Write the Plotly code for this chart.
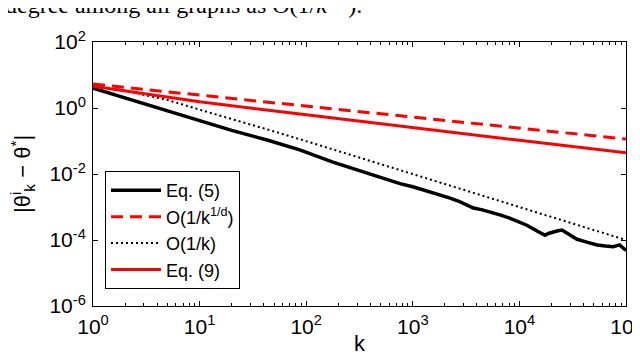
import plotly.graph_objects as go

# values (log-log axes)
k_eq5 = [1, 2, 4, 10, 20, 43, 87, 178, 372, 758, 1000, 1175, 1450, 1800, 2200, 2750,
         3200, 3700, 4500, 5600, 6800, 8100, 9500, 11750, 14500, 17400, 19000, 20900,
         23000, 25100, 29000, 34700, 42000, 53700, 64000, 75900, 87100, 93000, 100000]
v_eq5 = [4.0, 2.0, 1.0, 0.42, 0.21, 0.107, 0.054, 0.023, 0.0105, 0.0051, 0.0041,
         0.0035, 0.0029, 0.0023, 0.0019, 0.00145, 0.00118, 0.00093, 0.00082, 0.00068,
         0.00056, 0.00046, 0.00037, 0.00028, 0.00019, 0.00014, 0.00016, 0.00018,
         0.00019, 0.00020, 0.00015, 0.000105, 0.000088, 0.000071, 0.000066, 0.000063,
         0.000071, 0.000058, 0.000048]

k_ref = [1, 10, 100, 1000, 10000, 100000]
v_kd = [5.3, 2.46, 1.14, 0.53, 0.246, 0.114]          # O(1/k^(1/d))

k_dot = [1, 2, 3, 5, 10, 20, 50, 100, 1000, 10000, 100000]
v_dot = [4.5, 3.4, 2.5, 1.75, 0.89, 0.47, 0.195, 0.099, 0.01, 0.001, 0.0001]  # O(1/k)

k_eq9 = [1, 3, 10, 100, 1000, 10000, 100000]
v_eq9 = [4.6, 2.7, 1.55, 0.62, 0.25, 0.105, 0.044]

xtick_vals = [1, 10, 100, 1000, 10000, 100000]
xtick_text = ["10<sup>0</sup>", "10<sup>1</sup>", "10<sup>2</sup>", "10<sup>3</sup>",
              "10<sup>4</sup>", "10<sup>5</sup>"]
ytick_vals = [1e-6, 1e-4, 1e-2, 1, 1e2]
ytick_text = ["10<sup>-6</sup>", "10<sup>-4</sup>", "10<sup>-2</sup>", "10<sup>0</sup>",
              "10<sup>2</sup>"]
x_minor = [m * 10 ** e for e in range(5) for m in range(2, 10)]

font = "Liberation Sans, Arial, sans-serif"

fig = go.Figure()
fig.add_trace(go.Scatter(x=k_eq5, y=v_eq5, mode="lines", name="Eq. (5)",
                         line=dict(color="black", width=3.5)))
fig.add_trace(go.Scatter(x=k_ref, y=v_kd, mode="lines", name="O(1/k<sup>1/d</sup>)",
                         line=dict(color="#ff0000", width=3, dash="12px,7px")))
fig.add_trace(go.Scatter(x=k_dot, y=v_dot, mode="lines", name="O(1/k)",
                         line=dict(color="black", width=2, dash="2px,3px")))
fig.add_trace(go.Scatter(x=k_eq9, y=v_eq9, mode="lines", name="Eq. (9)",
                         line=dict(color="#ff0000", width=3)))

axis_common = dict(showgrid=False, zeroline=False, showline=True, linecolor="black",
                   linewidth=1, mirror="ticks", ticks="inside", ticklen=5,
                   tickcolor="black", ticklabelstandoff=2, automargin=False,
                   ticklabeloverflow="allow",
                   tickfont=dict(family=font, size=21, color="black"))

# the page body adds an 8px offset, so margins are shifted to compensate
fig.update_layout(
    width=640, height=360,
    margin=dict(l=85, r=22, t=34, b=62, autoexpand=False),
    paper_bgcolor="white", plot_bgcolor="white",
    xaxis=dict(type="log", range=[0, 5], tickmode="array", tickvals=xtick_vals,
               ticktext=xtick_text,
               minor=dict(tickmode="array", tickvals=x_minor, ticks="inside",
                          ticklen=3, tickcolor="black", showgrid=False),
               **axis_common),
    yaxis=dict(type="log", range=[-6, 2], tickmode="array", tickvals=ytick_vals,
               ticktext=ytick_text, **axis_common),
    legend=dict(x=0.0225, y=0.511, xanchor="left", yanchor="top",
                bgcolor="white", bordercolor="black", borderwidth=1,
                font=dict(family=font, size=18, color="black"),
                itemwidth=50, tracegroupgap=0),
    annotations=[
        dict(text="k", xref="paper", yref="paper", x=0.5, y=(306 - 343) / 264,
             xanchor="center", yanchor="middle", showarrow=False,
             font=dict(family=font, size=22, color="black")),
        dict(text="|θ<sup>i</sup><sub>k</sub> − θ<sup>*</sup>|", xref="paper", yref="paper",
             x=(22 - 93) / 533, y=0.5, textangle=-90, xanchor="center", yanchor="middle",
             showarrow=False, font=dict(family=font, size=22, color="black")),
        dict(text="degree among all graphs as O(1/<i>k</i><sup>1/d</sup>).",
             xref="paper", yref="paper", x=(3 - 93) / 533, y=(306 - 20) / 264,
             xanchor="left", yanchor="bottom", showarrow=False,
             font=dict(family="Liberation Serif, Times New Roman, serif", size=24,
                       color="black")),
    ],
)

fig.write_html("out.html")
